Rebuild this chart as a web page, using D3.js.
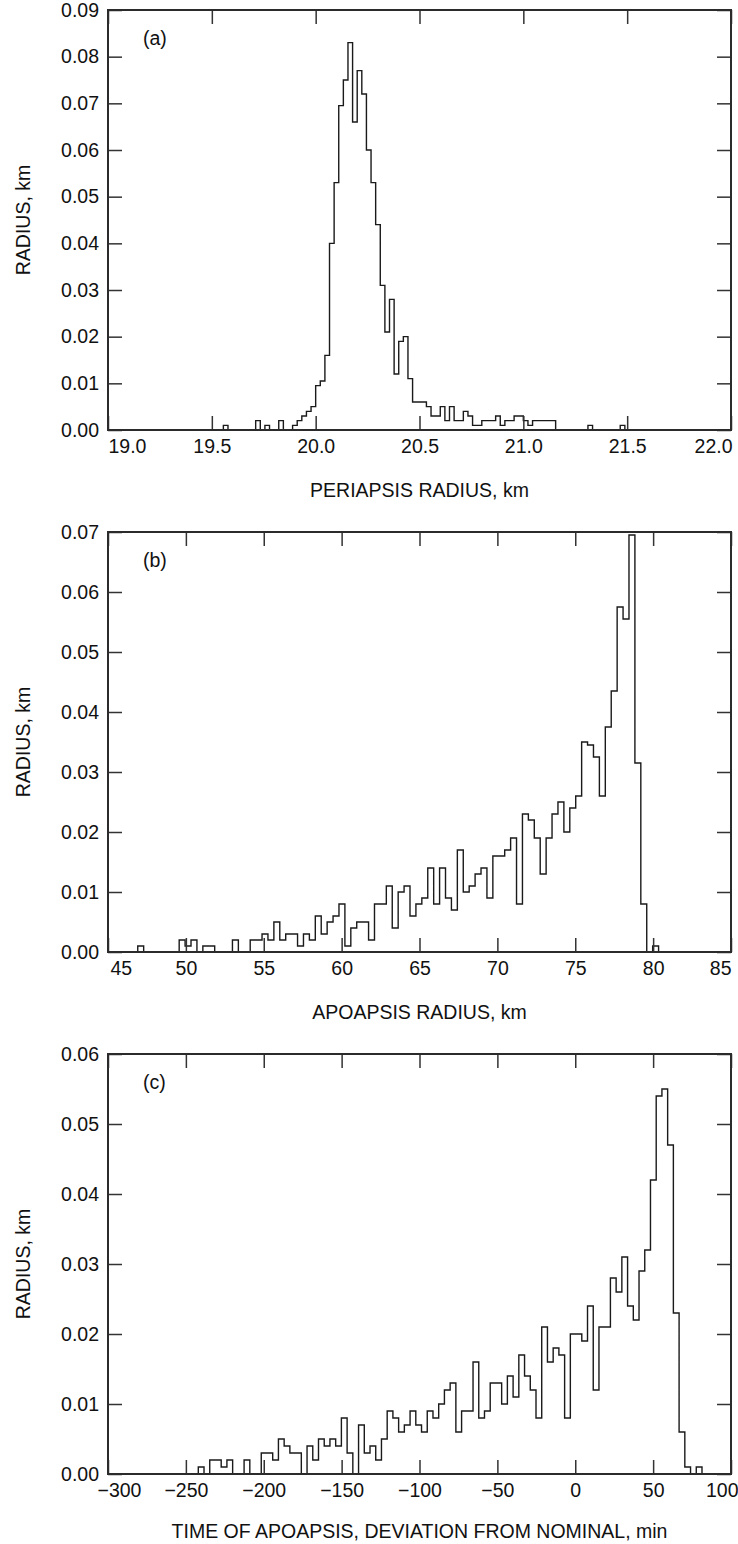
<!DOCTYPE html>
<html>
<head>
<meta charset="utf-8">
<script src="https://cdn.jsdelivr.net/npm/d3@7"></script>
<style>
  body { margin: 0; background: #fff; }
  svg text { font-family: 'Liberation Sans', Arial, Helvetica, sans-serif; fill: #111; }
</style>
</head>
<body>
<div id="container"></div>
<script>
// (a) periapsis radius histogram: bins of 1/45 km starting at 19.444 km
const periBinStart = 19 + 20 / 45;
const periBinWidth = 1 / 45;
const periValues = [
  0, 0, 0, 0, 0, 0.001, 0, 0, 0, 0,
  0, 0, 0.002, 0, 0.001, 0, 0, 0.002, 0, 0,
  0.001, 0.002, 0.003, 0.004, 0.005, 0.0095, 0.0105, 0.016, 0.040, 0.053,
  0.0695, 0.075, 0.083, 0.066, 0.077, 0.072, 0.060, 0.053, 0.044, 0.031,
  0.021, 0.028, 0.012, 0.019, 0.020, 0.011, 0.006, 0.006, 0.006, 0.005,
  0.003, 0.003, 0.005, 0.002, 0.005, 0.002, 0.002, 0.004, 0.003, 0.001,
  0.001, 0.002, 0.002, 0.002, 0.003, 0.001, 0.002, 0.002, 0.003, 0.003,
  0.002, 0.001, 0.002, 0.002, 0.002, 0.002, 0.002, 0, 0, 0,
  0, 0, 0, 0, 0.001, 0, 0, 0, 0, 0,
  0, 0.001, 0, 0, 0, 0, 0
];
const periTicksX = [19.0, 19.5, 20.0, 20.5, 21.0, 21.5, 22.0];
const periTicksY = [0, 0.01, 0.02, 0.03, 0.04, 0.05, 0.06, 0.07, 0.08, 0.09];

// (b) apoapsis radius histogram: bins of 0.38 km starting at 46.91 km
const apoBinStart = 46.91;
const apoBinWidth = 0.38;
const apoValues = [
  0.001, 0, 0, 0, 0, 0, 0, 0.002, 0.001, 0.002,
  0, 0.001, 0.001, 0, 0, 0, 0.002, 0, 0, 0.002,
  0.002, 0.003, 0.002, 0.005, 0.002, 0.003, 0.003, 0.001, 0.003, 0.002,
  0.006, 0.003, 0.005, 0.006, 0.008, 0.001, 0.004, 0.005, 0.005, 0.002,
  0.008, 0.008, 0.011, 0.004, 0.010, 0.011, 0.006, 0.008, 0.009, 0.014,
  0.008, 0.014, 0.009, 0.007, 0.017, 0.010, 0.011, 0.013, 0.014, 0.009,
  0.016, 0.016, 0.017, 0.019, 0.008, 0.023, 0.022, 0.019, 0.013, 0.019,
  0.023, 0.025, 0.020, 0.024, 0.026, 0.035, 0.0345, 0.0325, 0.026, 0.0375,
  0.0435, 0.0575, 0.0555, 0.0695, 0.0315, 0.008, 0, 0.001, 0, 0,
  0, 0, 0
];
const apoTicksX = [45, 50, 55, 60, 65, 70, 75, 80, 85];
const apoTicksY = [0, 0.01, 0.02, 0.03, 0.04, 0.05, 0.06, 0.07];

// (c) time of apoapsis histogram: bins of 3.675 min starting at -260.4 min
const timeBinStart = -260.4;
const timeBinWidth = 3.675;
const timeValues = [
  0, 0, 0, 0, 0, 0.001, 0, 0.002, 0.002, 0.001,
  0.002, 0, 0, 0.002, 0, 0, 0.003, 0.003, 0.002, 0.005,
  0.004, 0.003, 0.003, 0, 0.004, 0.002, 0.005, 0.004, 0.005, 0.004,
  0.008, 0.003, 0, 0.007, 0.003, 0.004, 0.002, 0.005, 0.009, 0.008,
  0.006, 0.007, 0.009, 0.007, 0.006, 0.009, 0.008, 0.010, 0.012, 0.013,
  0.006, 0.009, 0.009, 0.016, 0.008, 0.009, 0.013, 0.013, 0.010, 0.014,
  0.011, 0.017, 0.014, 0.012, 0.008, 0.021, 0.016, 0.018, 0.017, 0.008,
  0.020, 0.020, 0.019, 0.024, 0.012, 0.021, 0.021, 0.028, 0.026, 0.031,
  0.024, 0.022, 0.029, 0.032, 0.042, 0.054, 0.055, 0.047, 0.023, 0.006,
  0.001, 0, 0.001, 0
];
const timeTicksX = [-300, -250, -200, -150, -100, -50, 0, 50, 100];
const timeTicksY = [0, 0.01, 0.02, 0.03, 0.04, 0.05, 0.06];

const w = 738;
const h = 1544;
const plotLeft = 108;
const plotRight = 731;
const plotHeight = 420;
const tickLen = 14;
const fontSize = 19.5;

const panels = [
  {
    label: '(a)', top: 10, title: 'PERIAPSIS RADIUS, km',
    domain: [19, 22], yMax: 0.09, start: periBinStart, width: periBinWidth,
    values: periValues, ticksX: periTicksX, ticksY: periTicksY,
    fmtX: d3.format('.1f'), firstDx: 0, lastDx: 1
  },
  {
    label: '(b)', top: 532, title: 'APOAPSIS RADIUS, km',
    domain: [45, 85], yMax: 0.07, start: apoBinStart, width: apoBinWidth,
    values: apoValues, ticksX: apoTicksX, ticksY: apoTicksY,
    fmtX: d3.format('d'), firstDx: 2, lastDx: 0
  },
  {
    label: '(c)', top: 1054, title: 'TIME OF APOAPSIS, DEVIATION FROM NOMINAL, min',
    domain: [-300, 100], yMax: 0.06, start: timeBinStart, width: timeBinWidth,
    values: timeValues, ticksX: timeTicksX, ticksY: timeTicksY,
    fmtX: d3.format('d'), firstDx: -11, lastDx: 7
  }
];

const svg = d3
  .select('#container')
  .append('svg')
  .attr('width', w)
  .attr('height', h);

panels.forEach(p => {
  const bottom = p.top + plotHeight;
  const xScale = d3.scaleLinear().domain(p.domain).range([plotLeft, plotRight]);
  const yScale = d3.scaleLinear().domain([0, p.yMax]).range([bottom, p.top]);

  const g = svg.append('g');

  // step outline of the histogram
  const pts = [[p.start, 0]];
  p.values.forEach((v, i) => {
    pts.push([p.start + i * p.width, v]);
    pts.push([p.start + (i + 1) * p.width, v]);
  });
  pts.push([p.start + p.values.length * p.width, 0]);

  const line = d3
    .line()
    .x(d => xScale(d[0]))
    .y(d => yScale(d[1]));

  g.append('path')
    .datum(pts)
    .attr('d', line)
    .attr('fill', 'none')
    .attr('stroke', '#1a1a1a')
    .attr('stroke-width', 1.4)
    .attr('stroke-linejoin', 'miter');

  // axes with inward ticks on all four sides
  const xAxis = d3
    .axisBottom(xScale)
    .tickValues(p.ticksX)
    .tickFormat(p.fmtX)
    .tickSizeInner(-tickLen)
    .tickSizeOuter(0)
    .tickPadding(9);

  const gx = g
    .append('g')
    .attr('transform', `translate(0, ${bottom})`)
    .call(xAxis);

  const xLabels = gx.selectAll('.tick text');
  xLabels
    .filter((d, i) => i === 0)
    .attr('text-anchor', 'start')
    .attr('x', p.firstDx);
  xLabels
    .filter((d, i, n) => i === n.length - 1)
    .attr('text-anchor', 'end')
    .attr('x', p.lastDx);

  g.append('g')
    .attr('transform', `translate(0, ${p.top})`)
    .call(
      d3.axisTop(xScale).tickValues(p.ticksX).tickFormat('')
        .tickSizeInner(-tickLen).tickSizeOuter(0)
    );

  g.append('g')
    .attr('transform', `translate(${plotLeft}, 0)`)
    .call(
      d3.axisLeft(yScale).tickValues(p.ticksY).tickFormat(d3.format('.2f'))
        .tickSizeInner(-tickLen).tickSizeOuter(0).tickPadding(9)
    );

  g.append('g')
    .attr('transform', `translate(${plotRight}, 0)`)
    .call(
      d3.axisRight(yScale).tickValues(p.ticksY).tickFormat('')
        .tickSizeInner(-tickLen).tickSizeOuter(0)
    );

  g.selectAll('.domain').remove();
  g.selectAll('.tick line').attr('stroke', '#333').attr('stroke-width', 1.5);
  g.selectAll('.tick text')
    .style('font-size', `${fontSize}px`)
    .style('font-family', "'Liberation Sans', Arial, sans-serif")
    .attr('fill', '#111');

  g.append('rect')
    .attr('x', plotLeft)
    .attr('y', p.top)
    .attr('width', plotRight - plotLeft)
    .attr('height', plotHeight)
    .attr('fill', 'none')
    .attr('stroke', '#2b2b2b')
    .attr('stroke-width', 2);

  g.append('text')
    .attr('x', 143)
    .attr('y', p.top + 35)
    .style('font-size', `${fontSize}px`)
    .text(p.label);

  g.append('text')
    .attr('transform', `translate(30, ${p.top + plotHeight / 2}) rotate(-90)`)
    .attr('text-anchor', 'middle')
    .style('font-size', `${fontSize}px`)
    .text('RADIUS, km');

  g.append('text')
    .attr('x', (plotLeft + plotRight) / 2)
    .attr('y', p.label === '(c)' ? bottom + 64 : bottom + 67)
    .attr('text-anchor', 'middle')
    .style('font-size', `${fontSize}px`)
    .text(p.title);
});
</script>
</body>
</html>
